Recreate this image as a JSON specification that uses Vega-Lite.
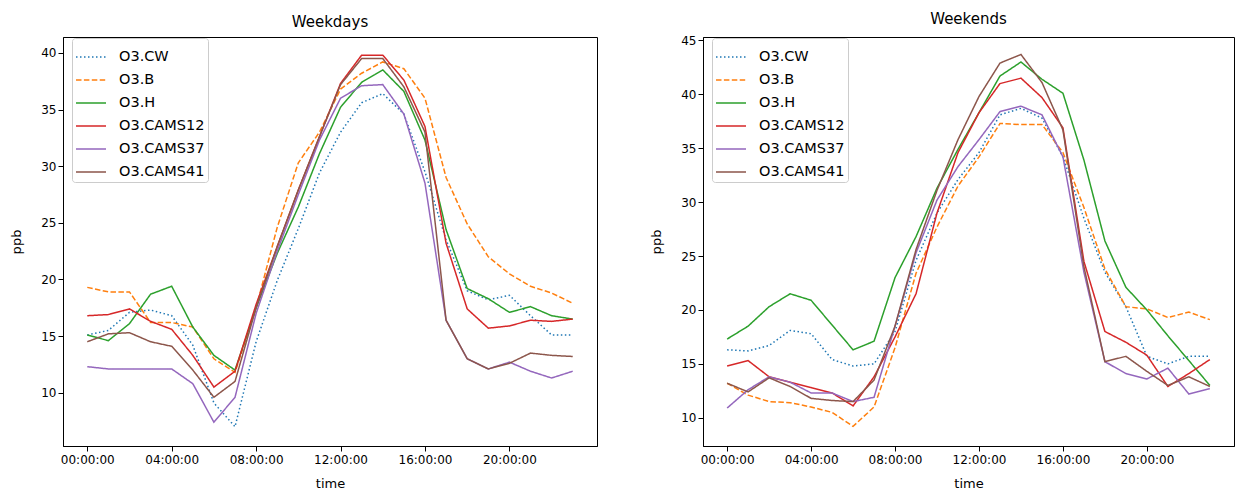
{
  "$schema": "https://vega.github.io/schema/vega-lite/v6.json",
  "background": "white",
  "padding": {"left": 10, "top": 11, "right": 4, "bottom": 0},
  "config": {
    "view": {"stroke": "black", "strokeWidth": 1},
    "font": "DejaVu Sans",
    "axis": {"grid": false, "domainColor": "black", "tickColor": "black", "labelColor": "black", "titleColor": "black", "labelFontSize": 12, "titleFontSize": 13, "titleFontWeight": "normal", "tickSize": 5, "labelFont": "DejaVu Sans", "titleFont": "DejaVu Sans"},
    "axisX": {"labelPadding": 3, "titlePadding": 12},
    "axisY": {"labelPadding": 2, "titlePadding": 17},
    "title": {"fontSize": 15, "fontWeight": "normal", "font": "DejaVu Sans", "color": "black", "offset": 7},
    "legend": {"orient": "none", "legendX": 9, "legendY": 1, "fillColor": "white", "strokeColor": "#cccccc", "cornerRadius": 3, "padding": 3, "symbolType": "stroke", "symbolSize": 900, "symbolStrokeWidth": 1.5, "labelFontSize": 14.5, "labelFont": "DejaVu Sans", "labelColor": "black", "labelOffset": 12, "rowPadding": -0.5, "title": null},
    "concat": {"spacing": 52}
  },
  "resolve": {"scale": {"color": "independent", "strokeDash": "independent"}, "legend": {"color": "independent", "strokeDash": "independent"}},
  "datasets": {
    "d": [
      {"p": "Weekdays", "s": "O3.CW", "t": 0, "v": 15.1}, {"p": "Weekdays", "s": "O3.CW", "t": 1, "v": 15.5}, {"p": "Weekdays", "s": "O3.CW", "t": 2, "v": 17.1}, {"p": "Weekdays", "s": "O3.CW", "t": 3, "v": 17.3}, {"p": "Weekdays", "s": "O3.CW", "t": 4, "v": 16.8}, {"p": "Weekdays", "s": "O3.CW", "t": 5, "v": 14.2}, {"p": "Weekdays", "s": "O3.CW", "t": 6, "v": 9.1}, {"p": "Weekdays", "s": "O3.CW", "t": 7, "v": 7.0}, {"p": "Weekdays", "s": "O3.CW", "t": 8, "v": 14.5}, {"p": "Weekdays", "s": "O3.CW", "t": 9, "v": 19.9}, {"p": "Weekdays", "s": "O3.CW", "t": 10, "v": 24.5}, {"p": "Weekdays", "s": "O3.CW", "t": 11, "v": 29.4}, {"p": "Weekdays", "s": "O3.CW", "t": 12, "v": 33.0}, {"p": "Weekdays", "s": "O3.CW", "t": 13, "v": 35.6}, {"p": "Weekdays", "s": "O3.CW", "t": 14, "v": 36.4}, {"p": "Weekdays", "s": "O3.CW", "t": 15, "v": 34.6}, {"p": "Weekdays", "s": "O3.CW", "t": 16, "v": 29.5}, {"p": "Weekdays", "s": "O3.CW", "t": 17, "v": 23.5}, {"p": "Weekdays", "s": "O3.CW", "t": 18, "v": 19.0}, {"p": "Weekdays", "s": "O3.CW", "t": 19, "v": 18.2}, {"p": "Weekdays", "s": "O3.CW", "t": 20, "v": 18.6}, {"p": "Weekdays", "s": "O3.CW", "t": 21, "v": 16.8}, {"p": "Weekdays", "s": "O3.CW", "t": 22, "v": 15.1}, {"p": "Weekdays", "s": "O3.CW", "t": 23, "v": 15.1},
      {"p": "Weekdays", "s": "O3.B", "t": 0, "v": 19.3}, {"p": "Weekdays", "s": "O3.B", "t": 1, "v": 18.9}, {"p": "Weekdays", "s": "O3.B", "t": 2, "v": 18.9}, {"p": "Weekdays", "s": "O3.B", "t": 3, "v": 16.2}, {"p": "Weekdays", "s": "O3.B", "t": 4, "v": 16.2}, {"p": "Weekdays", "s": "O3.B", "t": 5, "v": 15.8}, {"p": "Weekdays", "s": "O3.B", "t": 6, "v": 13.0}, {"p": "Weekdays", "s": "O3.B", "t": 7, "v": 11.8}, {"p": "Weekdays", "s": "O3.B", "t": 8, "v": 17.5}, {"p": "Weekdays", "s": "O3.B", "t": 9, "v": 24.6}, {"p": "Weekdays", "s": "O3.B", "t": 10, "v": 30.3}, {"p": "Weekdays", "s": "O3.B", "t": 11, "v": 33.0}, {"p": "Weekdays", "s": "O3.B", "t": 12, "v": 36.8}, {"p": "Weekdays", "s": "O3.B", "t": 13, "v": 38.2}, {"p": "Weekdays", "s": "O3.B", "t": 14, "v": 39.2}, {"p": "Weekdays", "s": "O3.B", "t": 15, "v": 38.6}, {"p": "Weekdays", "s": "O3.B", "t": 16, "v": 36.0}, {"p": "Weekdays", "s": "O3.B", "t": 17, "v": 29.0}, {"p": "Weekdays", "s": "O3.B", "t": 18, "v": 24.9}, {"p": "Weekdays", "s": "O3.B", "t": 19, "v": 22.0}, {"p": "Weekdays", "s": "O3.B", "t": 20, "v": 20.5}, {"p": "Weekdays", "s": "O3.B", "t": 21, "v": 19.4}, {"p": "Weekdays", "s": "O3.B", "t": 22, "v": 18.8}, {"p": "Weekdays", "s": "O3.B", "t": 23, "v": 17.9},
      {"p": "Weekdays", "s": "O3.H", "t": 0, "v": 15.1}, {"p": "Weekdays", "s": "O3.H", "t": 1, "v": 14.6}, {"p": "Weekdays", "s": "O3.H", "t": 2, "v": 16.1}, {"p": "Weekdays", "s": "O3.H", "t": 3, "v": 18.7}, {"p": "Weekdays", "s": "O3.H", "t": 4, "v": 19.4}, {"p": "Weekdays", "s": "O3.H", "t": 5, "v": 15.8}, {"p": "Weekdays", "s": "O3.H", "t": 6, "v": 13.3}, {"p": "Weekdays", "s": "O3.H", "t": 7, "v": 12.0}, {"p": "Weekdays", "s": "O3.H", "t": 8, "v": 17.5}, {"p": "Weekdays", "s": "O3.H", "t": 9, "v": 22.3}, {"p": "Weekdays", "s": "O3.H", "t": 10, "v": 26.4}, {"p": "Weekdays", "s": "O3.H", "t": 11, "v": 31.1}, {"p": "Weekdays", "s": "O3.H", "t": 12, "v": 35.2}, {"p": "Weekdays", "s": "O3.H", "t": 13, "v": 37.4}, {"p": "Weekdays", "s": "O3.H", "t": 14, "v": 38.5}, {"p": "Weekdays", "s": "O3.H", "t": 15, "v": 36.6}, {"p": "Weekdays", "s": "O3.H", "t": 16, "v": 32.3}, {"p": "Weekdays", "s": "O3.H", "t": 17, "v": 24.4}, {"p": "Weekdays", "s": "O3.H", "t": 18, "v": 19.2}, {"p": "Weekdays", "s": "O3.H", "t": 19, "v": 18.3}, {"p": "Weekdays", "s": "O3.H", "t": 20, "v": 17.1}, {"p": "Weekdays", "s": "O3.H", "t": 21, "v": 17.6}, {"p": "Weekdays", "s": "O3.H", "t": 22, "v": 16.8}, {"p": "Weekdays", "s": "O3.H", "t": 23, "v": 16.5},
      {"p": "Weekdays", "s": "O3.CAMS12", "t": 0, "v": 16.8}, {"p": "Weekdays", "s": "O3.CAMS12", "t": 1, "v": 16.9}, {"p": "Weekdays", "s": "O3.CAMS12", "t": 2, "v": 17.4}, {"p": "Weekdays", "s": "O3.CAMS12", "t": 3, "v": 16.3}, {"p": "Weekdays", "s": "O3.CAMS12", "t": 4, "v": 15.6}, {"p": "Weekdays", "s": "O3.CAMS12", "t": 5, "v": 13.3}, {"p": "Weekdays", "s": "O3.CAMS12", "t": 6, "v": 10.5}, {"p": "Weekdays", "s": "O3.CAMS12", "t": 7, "v": 11.9}, {"p": "Weekdays", "s": "O3.CAMS12", "t": 8, "v": 17.8}, {"p": "Weekdays", "s": "O3.CAMS12", "t": 9, "v": 22.9}, {"p": "Weekdays", "s": "O3.CAMS12", "t": 10, "v": 27.9}, {"p": "Weekdays", "s": "O3.CAMS12", "t": 11, "v": 32.6}, {"p": "Weekdays", "s": "O3.CAMS12", "t": 12, "v": 37.3}, {"p": "Weekdays", "s": "O3.CAMS12", "t": 13, "v": 39.8}, {"p": "Weekdays", "s": "O3.CAMS12", "t": 14, "v": 39.8}, {"p": "Weekdays", "s": "O3.CAMS12", "t": 15, "v": 37.6}, {"p": "Weekdays", "s": "O3.CAMS12", "t": 16, "v": 33.5}, {"p": "Weekdays", "s": "O3.CAMS12", "t": 17, "v": 23.2}, {"p": "Weekdays", "s": "O3.CAMS12", "t": 18, "v": 17.4}, {"p": "Weekdays", "s": "O3.CAMS12", "t": 19, "v": 15.7}, {"p": "Weekdays", "s": "O3.CAMS12", "t": 20, "v": 15.9}, {"p": "Weekdays", "s": "O3.CAMS12", "t": 21, "v": 16.4}, {"p": "Weekdays", "s": "O3.CAMS12", "t": 22, "v": 16.3}, {"p": "Weekdays", "s": "O3.CAMS12", "t": 23, "v": 16.5},
      {"p": "Weekdays", "s": "O3.CAMS37", "t": 0, "v": 12.3}, {"p": "Weekdays", "s": "O3.CAMS37", "t": 1, "v": 12.1}, {"p": "Weekdays", "s": "O3.CAMS37", "t": 2, "v": 12.1}, {"p": "Weekdays", "s": "O3.CAMS37", "t": 3, "v": 12.1}, {"p": "Weekdays", "s": "O3.CAMS37", "t": 4, "v": 12.1}, {"p": "Weekdays", "s": "O3.CAMS37", "t": 5, "v": 10.8}, {"p": "Weekdays", "s": "O3.CAMS37", "t": 6, "v": 7.4}, {"p": "Weekdays", "s": "O3.CAMS37", "t": 7, "v": 9.6}, {"p": "Weekdays", "s": "O3.CAMS37", "t": 8, "v": 17.0}, {"p": "Weekdays", "s": "O3.CAMS37", "t": 9, "v": 22.5}, {"p": "Weekdays", "s": "O3.CAMS37", "t": 10, "v": 27.5}, {"p": "Weekdays", "s": "O3.CAMS37", "t": 11, "v": 32.3}, {"p": "Weekdays", "s": "O3.CAMS37", "t": 12, "v": 36.0}, {"p": "Weekdays", "s": "O3.CAMS37", "t": 13, "v": 37.1}, {"p": "Weekdays", "s": "O3.CAMS37", "t": 14, "v": 37.2}, {"p": "Weekdays", "s": "O3.CAMS37", "t": 15, "v": 34.6}, {"p": "Weekdays", "s": "O3.CAMS37", "t": 16, "v": 28.5}, {"p": "Weekdays", "s": "O3.CAMS37", "t": 17, "v": 16.4}, {"p": "Weekdays", "s": "O3.CAMS37", "t": 18, "v": 13.0}, {"p": "Weekdays", "s": "O3.CAMS37", "t": 19, "v": 12.1}, {"p": "Weekdays", "s": "O3.CAMS37", "t": 20, "v": 12.7}, {"p": "Weekdays", "s": "O3.CAMS37", "t": 21, "v": 11.9}, {"p": "Weekdays", "s": "O3.CAMS37", "t": 22, "v": 11.3}, {"p": "Weekdays", "s": "O3.CAMS37", "t": 23, "v": 11.9},
      {"p": "Weekdays", "s": "O3.CAMS41", "t": 0, "v": 14.5}, {"p": "Weekdays", "s": "O3.CAMS41", "t": 1, "v": 15.2}, {"p": "Weekdays", "s": "O3.CAMS41", "t": 2, "v": 15.3}, {"p": "Weekdays", "s": "O3.CAMS41", "t": 3, "v": 14.5}, {"p": "Weekdays", "s": "O3.CAMS41", "t": 4, "v": 14.1}, {"p": "Weekdays", "s": "O3.CAMS41", "t": 5, "v": 12.0}, {"p": "Weekdays", "s": "O3.CAMS41", "t": 6, "v": 9.6}, {"p": "Weekdays", "s": "O3.CAMS41", "t": 7, "v": 11.0}, {"p": "Weekdays", "s": "O3.CAMS41", "t": 8, "v": 17.5}, {"p": "Weekdays", "s": "O3.CAMS41", "t": 9, "v": 22.9}, {"p": "Weekdays", "s": "O3.CAMS41", "t": 10, "v": 27.9}, {"p": "Weekdays", "s": "O3.CAMS41", "t": 11, "v": 32.6}, {"p": "Weekdays", "s": "O3.CAMS41", "t": 12, "v": 37.2}, {"p": "Weekdays", "s": "O3.CAMS41", "t": 13, "v": 39.5}, {"p": "Weekdays", "s": "O3.CAMS41", "t": 14, "v": 39.5}, {"p": "Weekdays", "s": "O3.CAMS41", "t": 15, "v": 37.0}, {"p": "Weekdays", "s": "O3.CAMS41", "t": 16, "v": 33.0}, {"p": "Weekdays", "s": "O3.CAMS41", "t": 17, "v": 16.4}, {"p": "Weekdays", "s": "O3.CAMS41", "t": 18, "v": 13.0}, {"p": "Weekdays", "s": "O3.CAMS41", "t": 19, "v": 12.1}, {"p": "Weekdays", "s": "O3.CAMS41", "t": 20, "v": 12.6}, {"p": "Weekdays", "s": "O3.CAMS41", "t": 21, "v": 13.5}, {"p": "Weekdays", "s": "O3.CAMS41", "t": 22, "v": 13.3}, {"p": "Weekdays", "s": "O3.CAMS41", "t": 23, "v": 13.2},
      {"p": "Weekends", "s": "O3.CW", "t": 0, "v": 16.3}, {"p": "Weekends", "s": "O3.CW", "t": 1, "v": 16.2}, {"p": "Weekends", "s": "O3.CW", "t": 2, "v": 16.7}, {"p": "Weekends", "s": "O3.CW", "t": 3, "v": 18.1}, {"p": "Weekends", "s": "O3.CW", "t": 4, "v": 17.8}, {"p": "Weekends", "s": "O3.CW", "t": 5, "v": 15.4}, {"p": "Weekends", "s": "O3.CW", "t": 6, "v": 14.8}, {"p": "Weekends", "s": "O3.CW", "t": 7, "v": 15.0}, {"p": "Weekends", "s": "O3.CW", "t": 8, "v": 18.0}, {"p": "Weekends", "s": "O3.CW", "t": 9, "v": 24.6}, {"p": "Weekends", "s": "O3.CW", "t": 10, "v": 29.0}, {"p": "Weekends", "s": "O3.CW", "t": 11, "v": 32.1}, {"p": "Weekends", "s": "O3.CW", "t": 12, "v": 34.6}, {"p": "Weekends", "s": "O3.CW", "t": 13, "v": 38.1}, {"p": "Weekends", "s": "O3.CW", "t": 14, "v": 38.7}, {"p": "Weekends", "s": "O3.CW", "t": 15, "v": 37.8}, {"p": "Weekends", "s": "O3.CW", "t": 16, "v": 34.2}, {"p": "Weekends", "s": "O3.CW", "t": 17, "v": 28.5}, {"p": "Weekends", "s": "O3.CW", "t": 18, "v": 23.5}, {"p": "Weekends", "s": "O3.CW", "t": 19, "v": 20.3}, {"p": "Weekends", "s": "O3.CW", "t": 20, "v": 15.7}, {"p": "Weekends", "s": "O3.CW", "t": 21, "v": 15.0}, {"p": "Weekends", "s": "O3.CW", "t": 22, "v": 15.7}, {"p": "Weekends", "s": "O3.CW", "t": 23, "v": 15.7},
      {"p": "Weekends", "s": "O3.B", "t": 0, "v": 13.2}, {"p": "Weekends", "s": "O3.B", "t": 1, "v": 12.1}, {"p": "Weekends", "s": "O3.B", "t": 2, "v": 11.5}, {"p": "Weekends", "s": "O3.B", "t": 3, "v": 11.4}, {"p": "Weekends", "s": "O3.B", "t": 4, "v": 11.0}, {"p": "Weekends", "s": "O3.B", "t": 5, "v": 10.5}, {"p": "Weekends", "s": "O3.B", "t": 6, "v": 9.2}, {"p": "Weekends", "s": "O3.B", "t": 7, "v": 11.0}, {"p": "Weekends", "s": "O3.B", "t": 8, "v": 16.5}, {"p": "Weekends", "s": "O3.B", "t": 9, "v": 23.4}, {"p": "Weekends", "s": "O3.B", "t": 10, "v": 27.7}, {"p": "Weekends", "s": "O3.B", "t": 11, "v": 31.5}, {"p": "Weekends", "s": "O3.B", "t": 12, "v": 34.2}, {"p": "Weekends", "s": "O3.B", "t": 13, "v": 37.3}, {"p": "Weekends", "s": "O3.B", "t": 14, "v": 37.2}, {"p": "Weekends", "s": "O3.B", "t": 15, "v": 37.2}, {"p": "Weekends", "s": "O3.B", "t": 16, "v": 34.6}, {"p": "Weekends", "s": "O3.B", "t": 17, "v": 29.5}, {"p": "Weekends", "s": "O3.B", "t": 18, "v": 23.8}, {"p": "Weekends", "s": "O3.B", "t": 19, "v": 20.3}, {"p": "Weekends", "s": "O3.B", "t": 20, "v": 20.1}, {"p": "Weekends", "s": "O3.B", "t": 21, "v": 19.3}, {"p": "Weekends", "s": "O3.B", "t": 22, "v": 19.8}, {"p": "Weekends", "s": "O3.B", "t": 23, "v": 19.1},
      {"p": "Weekends", "s": "O3.H", "t": 0, "v": 17.3}, {"p": "Weekends", "s": "O3.H", "t": 1, "v": 18.5}, {"p": "Weekends", "s": "O3.H", "t": 2, "v": 20.3}, {"p": "Weekends", "s": "O3.H", "t": 3, "v": 21.5}, {"p": "Weekends", "s": "O3.H", "t": 4, "v": 20.9}, {"p": "Weekends", "s": "O3.H", "t": 5, "v": 18.6}, {"p": "Weekends", "s": "O3.H", "t": 6, "v": 16.3}, {"p": "Weekends", "s": "O3.H", "t": 7, "v": 17.1}, {"p": "Weekends", "s": "O3.H", "t": 8, "v": 23.0}, {"p": "Weekends", "s": "O3.H", "t": 9, "v": 26.8}, {"p": "Weekends", "s": "O3.H", "t": 10, "v": 31.3}, {"p": "Weekends", "s": "O3.H", "t": 11, "v": 34.9}, {"p": "Weekends", "s": "O3.H", "t": 12, "v": 38.3}, {"p": "Weekends", "s": "O3.H", "t": 13, "v": 41.7}, {"p": "Weekends", "s": "O3.H", "t": 14, "v": 43.0}, {"p": "Weekends", "s": "O3.H", "t": 15, "v": 41.4}, {"p": "Weekends", "s": "O3.H", "t": 16, "v": 40.1}, {"p": "Weekends", "s": "O3.H", "t": 17, "v": 33.9}, {"p": "Weekends", "s": "O3.H", "t": 18, "v": 26.4}, {"p": "Weekends", "s": "O3.H", "t": 19, "v": 22.1}, {"p": "Weekends", "s": "O3.H", "t": 20, "v": 20.0}, {"p": "Weekends", "s": "O3.H", "t": 21, "v": 17.6}, {"p": "Weekends", "s": "O3.H", "t": 22, "v": 15.3}, {"p": "Weekends", "s": "O3.H", "t": 23, "v": 13.0},
      {"p": "Weekends", "s": "O3.CAMS12", "t": 0, "v": 14.8}, {"p": "Weekends", "s": "O3.CAMS12", "t": 1, "v": 15.3}, {"p": "Weekends", "s": "O3.CAMS12", "t": 2, "v": 13.8}, {"p": "Weekends", "s": "O3.CAMS12", "t": 3, "v": 13.3}, {"p": "Weekends", "s": "O3.CAMS12", "t": 4, "v": 12.8}, {"p": "Weekends", "s": "O3.CAMS12", "t": 5, "v": 12.3}, {"p": "Weekends", "s": "O3.CAMS12", "t": 6, "v": 11.1}, {"p": "Weekends", "s": "O3.CAMS12", "t": 7, "v": 13.8}, {"p": "Weekends", "s": "O3.CAMS12", "t": 8, "v": 17.5}, {"p": "Weekends", "s": "O3.CAMS12", "t": 9, "v": 21.5}, {"p": "Weekends", "s": "O3.CAMS12", "t": 10, "v": 29.0}, {"p": "Weekends", "s": "O3.CAMS12", "t": 11, "v": 34.6}, {"p": "Weekends", "s": "O3.CAMS12", "t": 12, "v": 38.3}, {"p": "Weekends", "s": "O3.CAMS12", "t": 13, "v": 41.0}, {"p": "Weekends", "s": "O3.CAMS12", "t": 14, "v": 41.5}, {"p": "Weekends", "s": "O3.CAMS12", "t": 15, "v": 39.7}, {"p": "Weekends", "s": "O3.CAMS12", "t": 16, "v": 36.9}, {"p": "Weekends", "s": "O3.CAMS12", "t": 17, "v": 24.5}, {"p": "Weekends", "s": "O3.CAMS12", "t": 18, "v": 18.0}, {"p": "Weekends", "s": "O3.CAMS12", "t": 19, "v": 17.0}, {"p": "Weekends", "s": "O3.CAMS12", "t": 20, "v": 15.8}, {"p": "Weekends", "s": "O3.CAMS12", "t": 21, "v": 12.9}, {"p": "Weekends", "s": "O3.CAMS12", "t": 22, "v": 14.1}, {"p": "Weekends", "s": "O3.CAMS12", "t": 23, "v": 15.4},
      {"p": "Weekends", "s": "O3.CAMS37", "t": 0, "v": 10.9}, {"p": "Weekends", "s": "O3.CAMS37", "t": 1, "v": 12.6}, {"p": "Weekends", "s": "O3.CAMS37", "t": 2, "v": 13.8}, {"p": "Weekends", "s": "O3.CAMS37", "t": 3, "v": 13.3}, {"p": "Weekends", "s": "O3.CAMS37", "t": 4, "v": 12.3}, {"p": "Weekends", "s": "O3.CAMS37", "t": 5, "v": 12.3}, {"p": "Weekends", "s": "O3.CAMS37", "t": 6, "v": 11.5}, {"p": "Weekends", "s": "O3.CAMS37", "t": 7, "v": 11.9}, {"p": "Weekends", "s": "O3.CAMS37", "t": 8, "v": 18.5}, {"p": "Weekends", "s": "O3.CAMS37", "t": 9, "v": 25.3}, {"p": "Weekends", "s": "O3.CAMS37", "t": 10, "v": 30.2}, {"p": "Weekends", "s": "O3.CAMS37", "t": 11, "v": 33.3}, {"p": "Weekends", "s": "O3.CAMS37", "t": 12, "v": 35.8}, {"p": "Weekends", "s": "O3.CAMS37", "t": 13, "v": 38.4}, {"p": "Weekends", "s": "O3.CAMS37", "t": 14, "v": 38.9}, {"p": "Weekends", "s": "O3.CAMS37", "t": 15, "v": 38.1}, {"p": "Weekends", "s": "O3.CAMS37", "t": 16, "v": 34.2}, {"p": "Weekends", "s": "O3.CAMS37", "t": 17, "v": 23.5}, {"p": "Weekends", "s": "O3.CAMS37", "t": 18, "v": 15.2}, {"p": "Weekends", "s": "O3.CAMS37", "t": 19, "v": 14.1}, {"p": "Weekends", "s": "O3.CAMS37", "t": 20, "v": 13.6}, {"p": "Weekends", "s": "O3.CAMS37", "t": 21, "v": 14.6}, {"p": "Weekends", "s": "O3.CAMS37", "t": 22, "v": 12.2}, {"p": "Weekends", "s": "O3.CAMS37", "t": 23, "v": 12.7},
      {"p": "Weekends", "s": "O3.CAMS41", "t": 0, "v": 13.2}, {"p": "Weekends", "s": "O3.CAMS41", "t": 1, "v": 12.4}, {"p": "Weekends", "s": "O3.CAMS41", "t": 2, "v": 13.7}, {"p": "Weekends", "s": "O3.CAMS41", "t": 3, "v": 12.9}, {"p": "Weekends", "s": "O3.CAMS41", "t": 4, "v": 11.8}, {"p": "Weekends", "s": "O3.CAMS41", "t": 5, "v": 11.6}, {"p": "Weekends", "s": "O3.CAMS41", "t": 6, "v": 11.5}, {"p": "Weekends", "s": "O3.CAMS41", "t": 7, "v": 13.5}, {"p": "Weekends", "s": "O3.CAMS41", "t": 8, "v": 18.5}, {"p": "Weekends", "s": "O3.CAMS41", "t": 9, "v": 25.6}, {"p": "Weekends", "s": "O3.CAMS41", "t": 10, "v": 31.1}, {"p": "Weekends", "s": "O3.CAMS41", "t": 11, "v": 35.8}, {"p": "Weekends", "s": "O3.CAMS41", "t": 12, "v": 39.8}, {"p": "Weekends", "s": "O3.CAMS41", "t": 13, "v": 42.9}, {"p": "Weekends", "s": "O3.CAMS41", "t": 14, "v": 43.7}, {"p": "Weekends", "s": "O3.CAMS41", "t": 15, "v": 41.1}, {"p": "Weekends", "s": "O3.CAMS41", "t": 16, "v": 36.7}, {"p": "Weekends", "s": "O3.CAMS41", "t": 17, "v": 24.0}, {"p": "Weekends", "s": "O3.CAMS41", "t": 18, "v": 15.2}, {"p": "Weekends", "s": "O3.CAMS41", "t": 19, "v": 15.7}, {"p": "Weekends", "s": "O3.CAMS41", "t": 20, "v": 14.3}, {"p": "Weekends", "s": "O3.CAMS41", "t": 21, "v": 13.0}, {"p": "Weekends", "s": "O3.CAMS41", "t": 22, "v": 13.8}, {"p": "Weekends", "s": "O3.CAMS41", "t": 23, "v": 12.9}
    ]
  },
  "hconcat": [
    {
      "width": 534, "height": 409,
      "title": "Weekdays",
      "data": {"name": "d"},
      "transform": [{"filter": "datum.p === 'Weekdays'"}],
      "mark": {"type": "line", "strokeWidth": 1.5, "clip": true},
      "encoding": {
        "x": {"field": "t", "type": "quantitative", "scale": {"domain": [-1.15, 24.15], "nice": false, "zero": false}, "axis": {"values": [0, 4, 8, 12, 16, 20], "labelExpr": "(datum.value < 10 ? '0' : '') + datum.value + ':00:00'", "title": "time"}},
        "y": {"field": "v", "type": "quantitative", "scale": {"domain": [5.3, 41.4], "nice": false, "zero": false}, "axis": {"values": [10, 15, 20, 25, 30, 35, 40], "title": "ppb"}},
        "color": {"field": "s", "type": "nominal", "scale": {"domain": ["O3.CW", "O3.B", "O3.H", "O3.CAMS12", "O3.CAMS37", "O3.CAMS41"], "range": ["#1f77b4", "#ff7f0e", "#2ca02c", "#d62728", "#9467bd", "#8c564b"]}, "legend": {"title": null}},
        "strokeDash": {"field": "s", "type": "nominal", "scale": {"domain": ["O3.CW", "O3.B", "O3.H", "O3.CAMS12", "O3.CAMS37", "O3.CAMS41"], "range": [[1.5, 2.5], [5.5, 2.4], [1, 0], [1, 0], [1, 0], [1, 0]]}, "legend": {"title": null}}
      }
    },
    {
      "width": 531, "height": 409,
      "title": "Weekends",
      "data": {"name": "d"},
      "transform": [{"filter": "datum.p === 'Weekends'"}],
      "mark": {"type": "line", "strokeWidth": 1.5, "clip": true},
      "encoding": {
        "x": {"field": "t", "type": "quantitative", "scale": {"domain": [-1.15, 24.15], "nice": false, "zero": false}, "axis": {"values": [0, 4, 8, 12, 16, 20], "labelExpr": "(datum.value < 10 ? '0' : '') + datum.value + ':00:00'", "title": "time"}},
        "y": {"field": "v", "type": "quantitative", "scale": {"domain": [7.38, 45.32], "nice": false, "zero": false}, "axis": {"values": [10, 15, 20, 25, 30, 35, 40, 45], "title": "ppb"}},
        "color": {"field": "s", "type": "nominal", "scale": {"domain": ["O3.CW", "O3.B", "O3.H", "O3.CAMS12", "O3.CAMS37", "O3.CAMS41"], "range": ["#1f77b4", "#ff7f0e", "#2ca02c", "#d62728", "#9467bd", "#8c564b"]}, "legend": {"title": null}},
        "strokeDash": {"field": "s", "type": "nominal", "scale": {"domain": ["O3.CW", "O3.B", "O3.H", "O3.CAMS12", "O3.CAMS37", "O3.CAMS41"], "range": [[1.5, 2.5], [5.5, 2.4], [1, 0], [1, 0], [1, 0], [1, 0]]}, "legend": {"title": null}}
      }
    }
  ]
}
